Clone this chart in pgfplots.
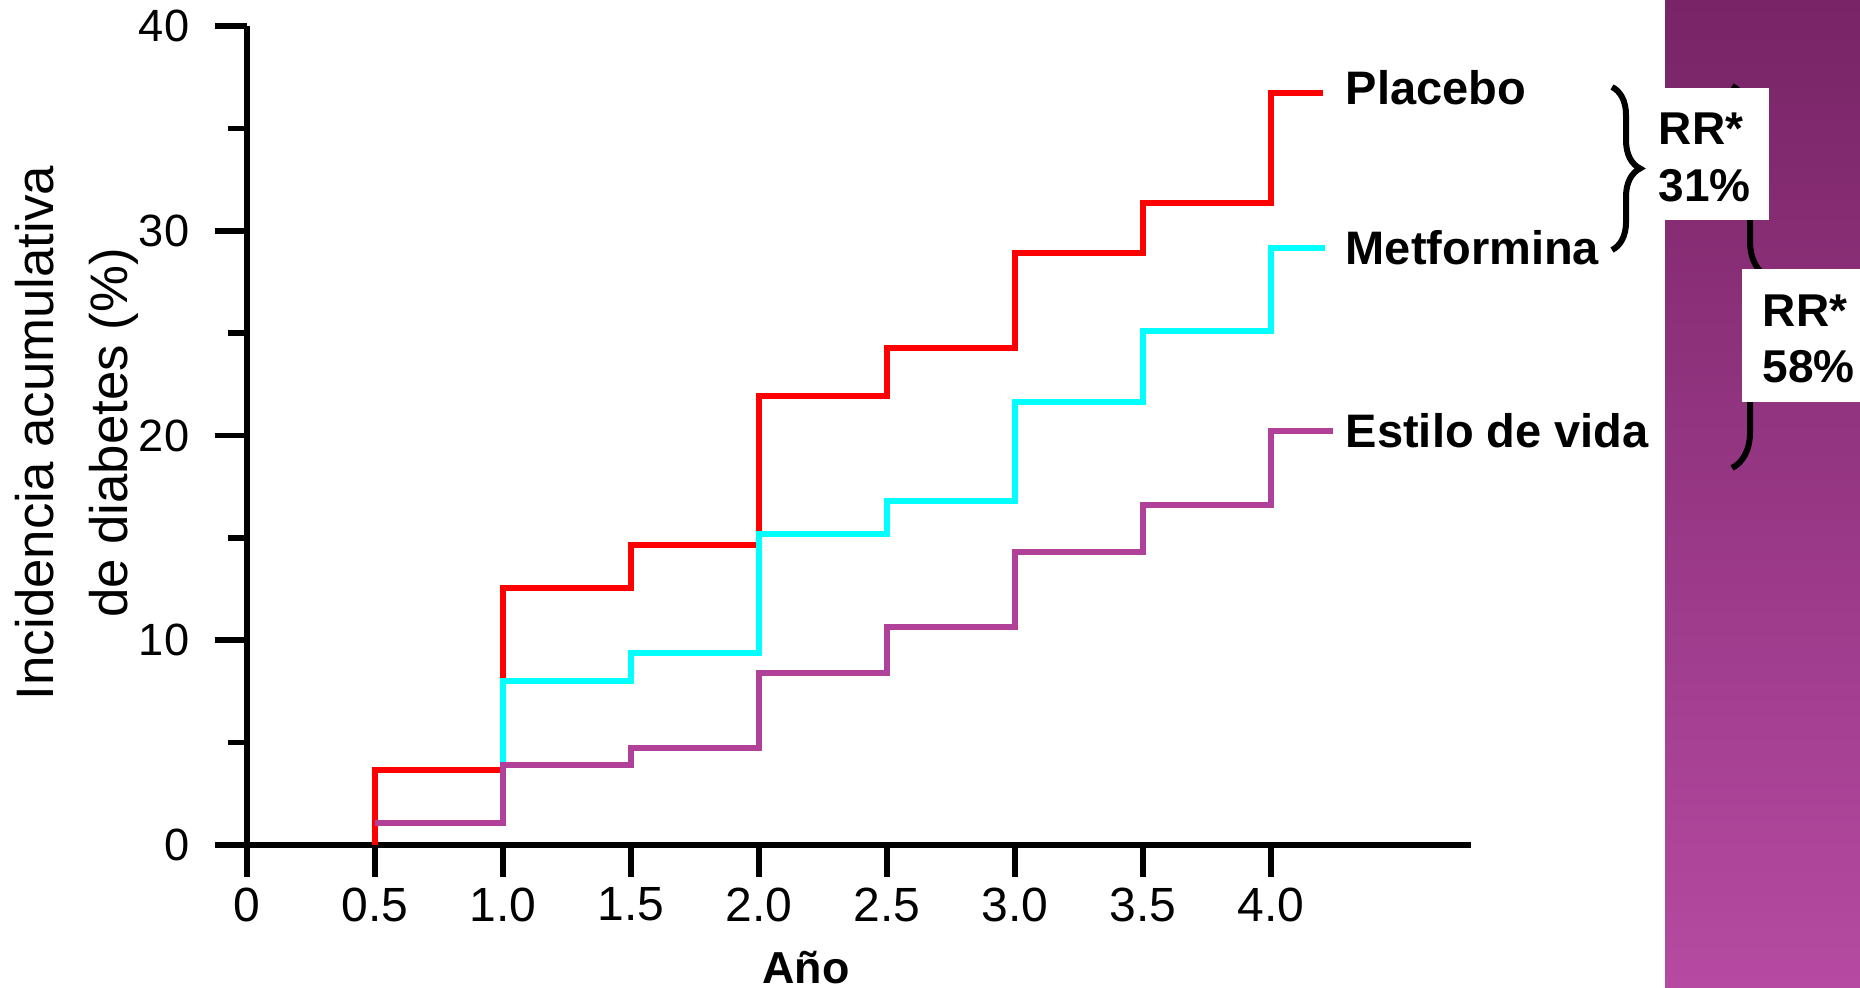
\documentclass[border=0pt]{standalone}
\usepackage{fontspec}
\setmainfont{Liberation Sans}
\usepackage{pgfplots}
\pgfplotsset{compat=1.18}
\usetikzlibrary{decorations.pathreplacing}
\definecolor{myred}{RGB}{255,0,0}
\definecolor{mycyan}{RGB}{0,255,255}
\definecolor{mypurple}{RGB}{176,64,152}
\definecolor{paneltop}{RGB}{120,36,102}
\definecolor{panelbot}{RGB}{182,74,162}
\begin{document}
\begin{tikzpicture}
\path[use as bounding box] (0,0) rectangle (465pt,246.75pt);
\shade[top color=paneltop, bottom color=panelbot] (416.25pt,0) rectangle (465pt,246.75pt);
\begin{axis}[
  at={(61.75pt,35.5pt)}, anchor=south west,
  scale only axis, width=306pt, height=204.75pt,
  xmin=0, xmax=4.78, ymin=0, ymax=40,
  axis x line=bottom, axis y line=left,
  axis line style={-, line width=1.6pt, black},
  xtick={0,0.5,1.0,1.5,2.0,2.5,3.0,3.5,4.0},
  xticklabels={0,0.5,1.0,1.5,2.0,2.5,3.0,3.5,4.0},
  ytick={0,10,20,30,40}, yticklabels={0,10,20,30,40},
  minor ytick={5,15,25,35},
  tick align=outside,
  major tick length=8pt, minor tick length=4.75pt,
  every tick/.style={black, line width=1.4pt},
  minor tick style={black, line width=1.4pt},
  xticklabel style={font=\fontsize{12}{14}\selectfont, anchor=north, inner sep=0pt, yshift=-2.5pt},
  yticklabel style={font=\fontsize{11.3}{13}\selectfont, anchor=east, inner sep=0pt, xshift=-6.25pt},
  clip=false,
]
\addplot[myred, line width=1.5pt, const plot] coordinates {
  (0.5,0) (0.5,3.66) (1.0,12.55) (1.5,14.65) (2.0,21.93) (2.5,24.27)
  (3.0,28.91) (3.5,31.36) (4.0,36.73) (4.2,36.73)};
\addplot[mycyan, line width=1.45pt, const plot] coordinates {
  (1.0,1.07) (1.0,8.0) (1.5,9.38) (2.0,15.19) (2.5,16.8)
  (3.0,21.64) (3.5,25.1) (4.0,29.16) (4.21,29.16)};
\addplot[mypurple, line width=1.45pt, const plot] coordinates {
  (0.5,1.07) (1.0,3.9) (1.5,4.74) (2.0,8.4) (2.5,10.65)
  (3.0,14.31) (3.5,16.6) (4.0,20.22) (4.24,20.22)};
\end{axis}
\node[rotate=90, align=center, font=\fontsize{13.2}{18.5}\selectfont] at (19.3pt,138.5pt) {Incidencia acumulativa\\de diabetes (\%)};
\node[anchor=base, inner sep=0pt, font=\bfseries\fontsize{11.2}{13}\selectfont] at (201.5pt,1pt) {Año};
\begin{scope}[font=\bfseries\fontsize{11.75}{13}\selectfont]
\node[anchor=base west, inner sep=0pt] at (336.25pt,220.5pt) {Placebo};
\node[anchor=base west, inner sep=0pt] at (336.25pt,180.5pt) {Metformina};
\node[anchor=base west, inner sep=0pt] at (336.25pt,135pt) {Estilo de vida};
\end{scope}
\draw[line width=1.5pt, decorate, decoration={brace, amplitude=9pt}] (433pt,225.25pt) -- (433pt,129.75pt);
\fill[white] (416.25pt,191.75pt) rectangle (442.25pt,224.75pt);
\fill[white] (435.5pt,146.25pt) rectangle (465pt,179.5pt);
\begin{scope}[font=\bfseries\fontsize{11.5}{13}\selectfont]
\node[anchor=base west, inner sep=0pt] at (414.5pt,210.5pt) {RR*};
\node[anchor=base west, inner sep=0pt] at (414.5pt,196.25pt) {31\%};
\node[anchor=base west, inner sep=0pt] at (440.5pt,165pt) {RR*};
\node[anchor=base west, inner sep=0pt] at (440.5pt,151.25pt) {58\%};
\end{scope}
\draw[line width=1.5pt, decorate, decoration={brace, amplitude=7pt}] (403pt,225pt) -- (403pt,184.25pt);
\end{tikzpicture}
\end{document}
